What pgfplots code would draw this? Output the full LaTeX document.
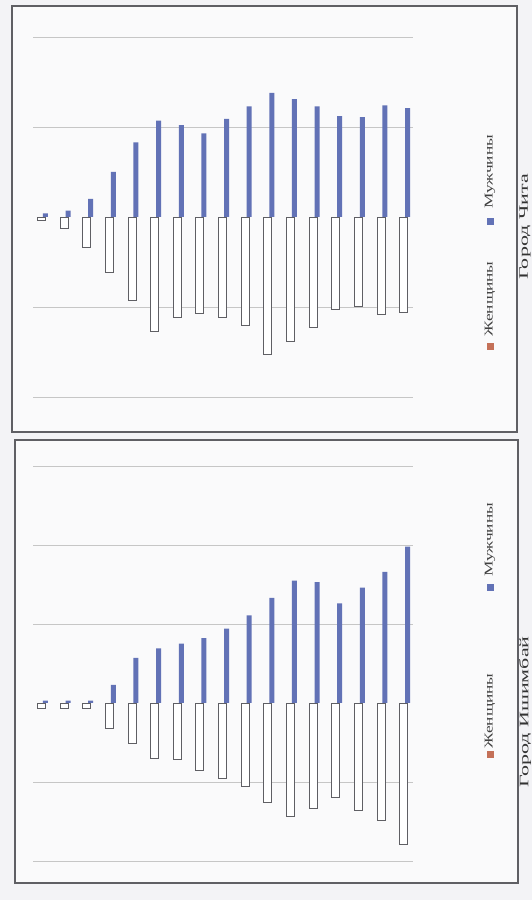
\documentclass[border=0pt]{standalone}
\usepackage{pgfplots}
\pgfplotsset{compat=1.18}
\usepackage{fontspec}
\setmainfont{Liberation Serif}

\definecolor{men}{RGB}{98,114,182}
\definecolor{womenleg}{RGB}{196,112,88}
\definecolor{edge}{RGB}{95,95,100}
\definecolor{paper}{RGB}{243,243,246}

% values in grid steps; women drawn downwards
\pgfplotstableread{
cat men women
1  0.04 -0.04
2  0.07 -0.13
3  0.20 -0.34
4  0.50 -0.62
5  0.83 -0.93
6  1.07 -1.27
7  1.02 -1.12
8  0.93 -1.07
9  1.09 -1.12
10 1.23 -1.21
11 1.38 -1.53
12 1.31 -1.38
13 1.23 -1.23
14 1.12 -1.03
15 1.11 -0.99
16 1.24 -1.08
17 1.21 -1.06
}\chita
\pgfplotstableread{
cat men women
1  0.03 -0.07
2  0.03 -0.07
3  0.03 -0.07
4  0.23 -0.32
5  0.57 -0.51
6  0.69 -0.70
7  0.75 -0.71
8  0.82 -0.85
9  0.94 -0.96
10 1.11 -1.06
11 1.33 -1.26
12 1.55 -1.43
13 1.53 -1.34
14 1.26 -1.19
15 1.46 -1.36
16 1.66 -1.49
17 1.98 -1.79
}\ishim

\pgfplotsset{
  panel/.style={
    scale only axis, width=380bp,
    xmin=0.56, xmax=17.35,
    axis line style={draw=none}, tick style={draw=none},
    xtick=\empty, yticklabels={},
    ymajorgrids, grid style={gray!45, line width=0.8bp},
    ybar,
  },
  wbar/.style={bar width=8bp, bar shift=-1.5bp, fill=white, draw=edge, line width=0.9bp},
  mbar/.style={bar width=5bp, bar shift=2.5bp, fill=men, draw=none},
}
\tikzset{
  legtext/.style={rotate=90, xscale=1.45, font=\fontsize{12}{14}\selectfont, text=black!75},
  title/.style={rotate=90, xscale=1.7, font=\fontsize{13}{15}\selectfont, text=black!80},
}

\begin{document}
\begin{tikzpicture}
\useasboundingbox (0,0) rectangle (532bp,900bp);
\fill[paper] (0,0) rectangle (532bp,900bp);
\fill[white!60!paper] (12bp,894bp) rectangle (517bp,468bp);
\fill[white!60!paper] (15bp,460bp) rectangle (518bp,17bp);

\begin{axis}[panel, at={(33bp,480.5bp)}, anchor=south west, height=405bp,
  ymin=-2.25, ymax=2.25, ytick={-2,-1,1,2}]
\addplot[wbar] table[x=cat, y=women] {\chita};
\addplot[mbar] table[x=cat, y=men] {\chita};
\end{axis}

\begin{axis}[panel, at={(33bp,23.2bp)}, anchor=south west, height=426.6bp,
  ymin=-2.2, ymax=3.2, ytick={-2,-1,1,2,3}]
\addplot[wbar] table[x=cat, y=women] {\ishim};
\addplot[mbar] table[x=cat, y=men] {\ishim};
\end{axis}

% legends (rotated, as in the scan)
\fill[womenleg] (486.5bp,549.5bp) rectangle (493.5bp,556.5bp);
\node[legtext] at (490bp,601bp) {Женщины};
\fill[men] (486.5bp,674.5bp) rectangle (493.5bp,681.5bp);
\node[legtext] at (490bp,728bp) {Мужчины};
\fill[womenleg] (486.5bp,141.5bp) rectangle (493.5bp,148.5bp);
\node[legtext] at (490bp,189bp) {Женщины};
\fill[men] (486.5bp,308.5bp) rectangle (493.5bp,315.5bp);
\node[legtext] at (490bp,360bp) {Мужчины};

\draw[edge, line width=1.3bp] (12bp,894bp) rectangle (517bp,468bp);
\draw[edge, line width=1.3bp] (15bp,460bp) rectangle (518bp,17bp);
\node[title] at (525bp,673bp) {Город Чита};
\node[title] at (525bp,188bp) {Город Ишимбай};
\end{tikzpicture}
\end{document}
